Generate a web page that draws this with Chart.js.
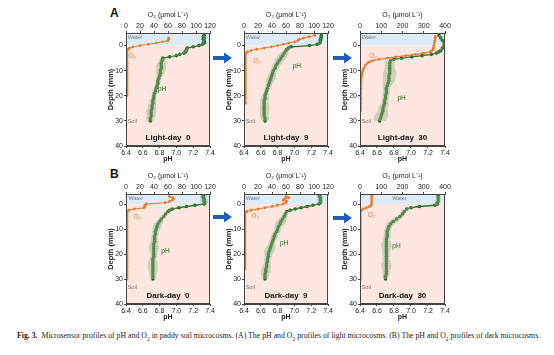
<!DOCTYPE html>
<html><head><meta charset="utf-8">
<script src="https://cdn.jsdelivr.net/npm/chart.js@4/dist/chart.umd.min.js"></script>
<style>
html,body{margin:0;padding:0;background:#fff}
body{width:554px;height:355px;position:relative;overflow:hidden;font-family:"Liberation Sans",Arial,sans-serif}
canvas{position:absolute}
.lt{position:absolute;font-weight:bold;font-size:12px;color:#111}
#cap{position:absolute;left:17px;top:331px;font-family:"Liberation Serif","Times New Roman",serif;font-size:7.8px;color:#222;white-space:nowrap}
svg{position:absolute;left:0;top:0}
</style></head><body>
<div class="lt" style="left:110px;top:6px">A</div>
<div class="lt" style="left:110px;top:167px">B</div>
<svg width="554" height="355">
 <g fill="#1f5fba">
  <polygon points="213,56 224,56 224,52.5 232,58 224,63.5 224,60 213,60"/>
  <polygon points="333,56 344,56 344,52.5 352,58 344,63.5 344,60 333,60"/>
  <polygon points="213,215 224,215 224,211.5 232,217 224,222.5 224,219 213,219"/>
  <polygon points="333,216 344,216 344,212.5 352,218 344,223.5 344,220 333,220"/>
 </g>
</svg>
<div id="cap"><b>Fig. 3.</b>&nbsp; Microsensor profiles of pH and O<sub style="font-size:5.5px">2</sub> in paddy soil microcosms. (A) The pH and O<sub style="font-size:5.5px">2</sub> profiles of light microcosms. (B) The pH and O<sub style="font-size:5.5px">2</sub> profiles of dark microcosms.</div>
<script>
// ---------- tick labels ----------
const phTicks = [6.4, 6.6, 6.8, 7.0, 7.2, 7.4];
const depthTicks = [0, 10, 20, 30, 40];
const o2TicksSmall = [0, 20, 40, 60, 80, 100, 120];
const o2TicksLarge = [0, 100, 200, 300, 400];
const panelTitles = ["Light-day  0", "Light-day  9", "Light-day  30", "Dark-day  0", "Dark-day  9", "Dark-day  30"];

// ---------- Light-day 0 ----------
const light0PhDepth = [-4,-3.5,-3,-2.5,-2,-1.5,-1,-0.5,0,0.5,1,1.5,2,2.5,3,3.5,4,4.5,5,6,7,8,9,10,11,12,13,14,15,16,17,18,19,20,21,22,23,24,25,26,27,28,29,30];
const light0Ph = [7.33,7.32,7.33,7.32,7.33,7.33,7.33,7.31,7.27,7.20,7.13,7.12,7.12,7.11,7.09,7.04,7.00,6.92,6.84,6.83,6.82,6.82,6.82,6.81,6.81,6.80,6.79,6.78,6.78,6.77,6.76,6.75,6.74,6.73,6.73,6.72,6.72,6.71,6.71,6.70,6.70,6.70,6.69,6.69];
const light0PhSd = [0.01,0.01,0.01,0.01,0.01,0.01,0.01,0.02,0.02,0.02,0.02,0.02,0.02,0.02,0.03,0.03,0.03,0.03,0.03,0.04,0.05,0.06,0.06,0.06,0.05,0.04,0.03,0.03,0.03,0.03,0.03,0.03,0.03,0.03,0.03,0.04,0.04,0.05,0.05,0.06,0.06,0.05,0.05,0.04];
const light0O2Depth = [-3,-2.5,-2,-1.5,-1,-0.5,0,0.5,1,1.5,2,3,4,5,6,7,8,9,10,11,12,13,14,15,16,17,18,19,20];
const light0O2 = [61,61,60,52,43,32,20,10,5,3,2,1.5,1.5,1.5,1.5,1.5,1.5,1.5,1.5,1.5,1.5,1.5,1.5,1.5,1.5,1.5,1.5,1.5,1.5];

// ---------- Light-day 9 ----------
const light9PhDepth = [-4,-3.5,-3,-2.5,-2,-1.5,-1,-0.5,0,0.5,1,1.5,2,3,4,5,6,7,8,9,10,11,12,13,14,15,16,17,18,19,20,21,22,23,24,25,26,27,28,29,30];
const light9Ph = [7.32,7.32,7.32,7.31,7.31,7.31,7.30,7.27,7.18,6.96,6.93,6.91,6.90,6.88,6.86,6.84,6.82,6.80,6.78,6.77,6.75,6.74,6.73,6.72,6.71,6.70,6.69,6.68,6.67,6.66,6.65,6.65,6.64,6.64,6.64,6.64,6.64,6.64,6.64,6.65,6.65];
const light9PhSd = [0.01,0.01,0.01,0.01,0.01,0.02,0.02,0.02,0.02,0.02,0.02,0.03,0.03,0.05,0.06,0.06,0.06,0.05,0.05,0.04,0.04,0.04,0.05,0.05,0.05,0.04,0.04,0.03,0.03,0.03,0.04,0.05,0.05,0.05,0.06,0.06,0.06,0.05,0.05,0.05,0.04];
const light9O2Depth = [-4,-3.5,-3,-2.5,-2,-1.5,-1,-0.5,0,0.5,1,1.5,2,2.5,3,4,5,6,7,8,9,10,11,12,13,14,15,16,17,18,19,20,21,22,23];
const light9O2 = [101,93,85,79,77,73,64,56,48,39,29,18,10,5,3,2,2,2,2,2,2,2,2,2,2,2,2,2,2,2,2,2,2,2,2];

// ---------- Light-day 30 ----------
const light30PhDepth = [-4,-3,-2,-1,0,1,2,2.5,3,3.5,4,4.5,5,5.5,6,7,8,9,10,11,12,13,14,15,16,17,18,19,20,21,22,23,24,25,26,27,28,29,30];
const light30Ph = [7.33,7.35,7.37,7.39,7.39,7.37,7.35,7.33,7.30,7.24,7.13,7.01,6.89,6.80,6.76,6.75,6.75,6.75,6.75,6.75,6.74,6.74,6.74,6.73,6.72,6.71,6.71,6.71,6.70,6.70,6.69,6.69,6.68,6.67,6.67,6.66,6.65,6.64,6.63];
const light30PhSd = [0.01,0.01,0.01,0.01,0.01,0.01,0.01,0.01,0.02,0.02,0.02,0.02,0.03,0.04,0.05,0.06,0.06,0.06,0.07,0.08,0.08,0.08,0.07,0.06,0.05,0.04,0.04,0.04,0.04,0.04,0.04,0.04,0.05,0.05,0.06,0.07,0.08,0.08,0.07];
const light30O2Depth = [-3.5,-3,-2,-1,0,1,1.5,2,2.5,3,3.5,4,4.5,5,5.5,6,6.5,7,8,9,10,11,12,13,14,15,16,17,18,19,20,21,22,23,24,25,26];
const light30O2 = [355,354,352,350,348,346,344,340,330,300,260,215,170,130,90,60,45,35,24,18,14,10,8,6,5,4,4,4,3,3,3,3,3,3,3,3,3];

// ---------- Dark-day 0 ----------
const dark0PhDepth = [-3.5,-3,-2.5,-2,-1.5,-1,-0.5,0,0.5,1,1.5,2,2.5,3,4,5,6,7,8,9,10,11,12,13,14,15,16,17,18,19,20,21,22,23,24,25,26,27,28,29,30];
const dark0Ph = [7.32,7.32,7.32,7.33,7.33,7.33,7.34,7.33,7.22,7.12,7.03,6.95,6.92,6.90,6.87,6.85,6.82,6.80,6.78,6.77,6.76,6.75,6.75,6.74,6.74,6.74,6.73,6.73,6.73,6.73,6.73,6.73,6.72,6.72,6.72,6.72,6.72,6.72,6.72,6.72,6.72];
const dark0PhSd = [0.04,0.04,0.04,0.04,0.04,0.04,0.04,0.03,0.02,0.02,0.02,0.02,0.02,0.02,0.03,0.03,0.03,0.04,0.05,0.05,0.05,0.04,0.04,0.04,0.04,0.05,0.05,0.06,0.06,0.05,0.04,0.04,0.04,0.05,0.06,0.06,0.06,0.05,0.04,0.04,0.04];
const dark0O2Depth = [-3,-2.5,-2,-1.5,-1,-0.5,0,0.5,1,1.5,2,2.5,3,4,5,6,7,8,9,10,11,12,13,14,15,16,17,18,19,20,21,22,23,24,25,26,27,28,29,30];
const dark0O2 = [62,67,68,66,62,56,29,27,27,26,12,4,2,1.5,1.5,1.5,1.5,1.5,1.5,1.5,1.5,1.5,1.5,1.5,1.5,1.5,1.5,1.5,1.5,1.5,1.5,1.5,1.5,1.5,1.5,1.5,1.5,1.5,1.5,1.5];

// ---------- Dark-day 9 ----------
const dark9PhDepth = [-3.5,-3,-2.5,-2,-1.5,-1,-0.5,0,0.5,1,1.5,2,2.5,3,4,5,6,7,8,9,10,11,12,13,14,15,16,17,18,19,20,21,22,23,24,25,26,27,28,29,30];
const dark9Ph = [7.30,7.30,7.31,7.31,7.31,7.31,7.31,7.29,7.22,7.15,7.08,7.01,6.95,6.91,6.89,6.88,6.86,6.84,6.83,6.81,6.80,6.79,6.77,6.76,6.75,6.74,6.73,6.72,6.71,6.70,6.69,6.69,6.68,6.68,6.67,6.67,6.66,6.66,6.65,6.65,6.65];
const dark9PhSd = [0.03,0.03,0.03,0.03,0.03,0.03,0.03,0.03,0.02,0.02,0.02,0.02,0.02,0.02,0.03,0.04,0.05,0.06,0.06,0.05,0.04,0.04,0.04,0.04,0.04,0.04,0.04,0.05,0.06,0.06,0.05,0.04,0.04,0.04,0.04,0.05,0.06,0.06,0.05,0.04,0.04];
const dark9O2Depth = [-3,-2.5,-2,-1.5,-1,-0.5,0,0.5,1,1.5,2,2.5,3,3.5,4,5,6,7,8,9,10,11,12,13,14,15,16,17,18,19,20,21,22,23,24,25,26];
const dark9O2 = [60,64,58,56,61,60,56,48,40,30,20,10,4,2,1.5,1.5,1.5,1.5,1.5,1.5,1.5,1.5,1.5,1.5,1.5,1.5,1.5,1.5,1.5,1.5,1.5,1.5,1.5,1.5,1.5,1.5,1.5];

// ---------- Dark-day 30 ----------
const dark30PhDepth = [-3.5,-3,-2,-1,-0.5,0,0.5,1,1.5,2,3,4,5,6,7,8,9,10,11,12,13,14,15,16,17,18,19,20,21,22,23,24,25,26,27,28,29,30];
const dark30Ph = [7.32,7.32,7.32,7.32,7.31,7.31,7.28,7.10,7.00,6.95,6.92,6.90,6.87,6.83,6.79,6.76,6.74,6.73,6.72,6.72,6.72,6.71,6.71,6.71,6.71,6.71,6.71,6.71,6.71,6.71,6.71,6.71,6.71,6.71,6.71,6.71,6.70,6.70];
const dark30PhSd = [0.03,0.03,0.03,0.03,0.03,0.03,0.03,0.03,0.03,0.03,0.03,0.03,0.04,0.05,0.06,0.05,0.04,0.04,0.04,0.04,0.04,0.04,0.05,0.06,0.06,0.05,0.04,0.04,0.04,0.04,0.05,0.06,0.06,0.05,0.04,0.04,0.03,0.03];
const dark30O2Depth = [-3.5,-3,-2,-1,0,0.5,1,1.5,2,2.5,3,4,5,6,7,8,9,10,11,12,13,14,15,16,17,18,19,20,21,22,23,24,25,26,27,28,29,30];
const dark30O2 = [55,55,55,55,54,52,45,30,15,6,3,2,2,2,2,2,2,2,2,2,2,2,2,2,2,2,2,2,2,2,2,2,2,2,2,2,2,2];

// ---------- styling ----------
const ORANGE = '#ec7a2a', GREEN = '#1b6a22', BAND = 'rgba(150,178,140,0.45)';
const WATER = '#dcecf8', SOIL = '#fde7e0';
const FONT = '"Liberation Sans", Arial, sans-serif';

const panels = [
  {ph:[light0PhDepth,light0Ph,light0PhSd], o2:[light0O2Depth,light0O2], o2max:120, o2ticks:o2TicksSmall, left:126, top:33, w:84, h:113, ymin:-5, title:panelTitles[0],
   labels:{water:[6.42,-3.3], o2:[6.43,4.2], ph:[6.78,17.3], soil:[6.42,30.3], title:[6.9,36.6]}},
  {ph:[light9PhDepth,light9Ph,light9PhSd], o2:[light9O2Depth,light9O2], o2max:120, o2ticks:o2TicksSmall, left:244, top:33, w:84, h:113, ymin:-5, title:panelTitles[1],
   labels:{water:[6.42,-3.3], o2:[6.51,6.2], ph:[6.98,8.4], soil:[6.42,30.3], title:[6.9,36.6]}},
  {ph:[light30PhDepth,light30Ph,light30PhSd], o2:[light30O2Depth,light30O2], o2max:400, o2ticks:o2TicksLarge, left:360, top:33, w:85, h:113, ymin:-5, title:panelTitles[2],
   labels:{water:[6.42,-3.3], o2:[6.51,4.3], ph:[6.84,21], soil:[6.42,30.3], title:[6.9,36.6]}},
  {ph:[dark0PhDepth,dark0Ph,dark0PhSd], o2:[dark0O2Depth,dark0O2], o2max:120, o2ticks:o2TicksSmall, left:126, top:194, w:84, h:110, ymin:-4, title:panelTitles[3],
   labels:{water:[6.43,-2.4], o2:[6.49,5.2], ph:[6.82,18.7], soil:[6.42,33.3], title:[6.9,36.6]}},
  {ph:[dark9PhDepth,dark9Ph,dark9PhSd], o2:[dark9O2Depth,dark9O2], o2max:120, o2ticks:o2TicksSmall, left:244, top:194, w:84, h:110, ymin:-4, title:panelTitles[4],
   labels:{water:[6.42,-2.4], o2:[6.49,5.0], ph:[6.83,15.6], soil:[6.42,33.3], title:[6.9,36.6]}},
  {ph:[dark30PhDepth,dark30Ph,dark30PhSd], o2:[dark30O2Depth,dark30O2], o2max:400, o2ticks:o2TicksLarge, left:360, top:194, w:85, h:110, ymin:-4, title:panelTitles[5],
   labels:{water:[6.78,-2.4], o2:[6.49,4.5], ph:[6.78,17], soil:[6.42,33.3], title:[6.9,36.6]}}
];

const bgPlugin = {
  id:'bgzones',
  beforeDatasetsDraw(chart){
    const {ctx, chartArea:a, scales:{y}} = chart;
    const y0 = y.getPixelForValue(0);
    ctx.save();
    ctx.fillStyle = WATER; ctx.fillRect(a.left, a.top, a.right-a.left, y0-a.top);
    ctx.fillStyle = SOIL; ctx.fillRect(a.left, y0, a.right-a.left, a.bottom-y0);
    ctx.restore();
  },
  afterDatasetsDraw(chart){
    const {ctx, chartArea:a, scales:{x, y}} = chart;
    const L = chart.options.plugins.bgzones.labels;
    const title = chart.options.plugins.bgzones.title;
    ctx.save();
    ctx.textBaseline = 'middle';
    const put = (txt, pos, color, font, align) => {
      ctx.fillStyle = color; ctx.font = font; ctx.textAlign = align;
      ctx.fillText(txt, x.getPixelForValue(pos[0]), y.getPixelForValue(pos[1]));
    };
    put('Water', L.water, '#7a7a7a', '5.5px ' + FONT, 'left');
    put('Soil', L.soil, '#7a7a7a', '5.5px ' + FONT, 'left');
    put('O₂', L.o2, ORANGE, '6.5px ' + FONT, 'left');
    put('pH', L.ph, GREEN, '6.5px ' + FONT, 'left');
    put(title, L.title, '#111', 'bold 8px ' + FONT, 'center');
    ctx.strokeStyle = '#444'; ctx.lineWidth = 1;
    ctx.strokeRect(a.left+0.5, a.top+0.5, a.right-a.left-1, a.bottom-a.top-1);
    ctx.restore();
  }
};

function axisCommon(){
  return {
    grid:{drawOnChartArea:false, tickLength:2, color:'#444', lineWidth:1},
    border:{color:'#444'},
    ticks:{font:{size:7, family:FONT}, color:'#222', padding:1, autoSkip:false, maxRotation:0}
  };
}

function makePanel(p){
  const Lw = 23, Tw = 26, Rw = 9, Bw = 18;
  const cv = document.createElement('canvas');
  const W = Lw + p.w + Rw, H = Tw + p.h + Bw;
  cv.width = W; cv.height = H;
  cv.style.width = W + 'px'; cv.style.height = H + 'px';
  cv.style.left = (p.left - Lw) + 'px'; cv.style.top = (p.top - Tw) + 'px';
  document.body.appendChild(cv);

  const [pd, pv, ps] = p.ph;
  const [od, ov] = p.o2;
  const lo = pd.map((d,i)=>({x:pv[i]-ps[i], y:d}));
  const hi = pd.map((d,i)=>({x:pv[i]+ps[i], y:d})).reverse();

  const xs = axisCommon(), x2 = axisCommon(), ys = axisCommon();
  new Chart(cv, {
    type:'scatter',
    data:{datasets:[
      {data:lo.concat(hi), xAxisID:'x', yAxisID:'y', showLine:true, fill:'shape', backgroundColor:BAND, borderWidth:0, pointRadius:0, tension:0},
      {data:od.map((d,i)=>({x:ov[i], y:d})), xAxisID:'x2', yAxisID:'y', showLine:true, borderColor:ORANGE, borderWidth:1.1, pointRadius:1.4, pointBackgroundColor:ORANGE, pointBorderWidth:0},
      {data:pd.map((d,i)=>({x:pv[i], y:d})), xAxisID:'x', yAxisID:'y', showLine:true, borderColor:GREEN, borderWidth:1.3, pointRadius:1.8, pointBackgroundColor:GREEN, pointBorderWidth:0}
    ]},
    options:{
      responsive:false, animation:false, devicePixelRatio:1,
      layout:{padding:{left:0, top:0, right:Rw, bottom:0}},
      plugins:{legend:{display:false}, tooltip:{enabled:false}, bgzones:{labels:p.labels, title:p.title}},
      scales:{
        x:Object.assign(xs, {type:'linear', position:'bottom', min:6.4, max:7.4,
          afterBuildTicks:s=>{s.ticks = phTicks.map(v=>({value:v}));},
          ticks:Object.assign(xs.ticks, {callback:v=>Number(v).toFixed(1)}),
          title:{display:true, text:'pH', font:{size:7, weight:'bold', family:FONT}, color:'#222', padding:{top:0, bottom:1}},
          afterFit:s=>{s.height = Bw;}}),
        x2:Object.assign(x2, {type:'linear', position:'top', min:0, max:p.o2max,
          afterBuildTicks:s=>{s.ticks = p.o2ticks.map(v=>({value:v}));},
          ticks:Object.assign(x2.ticks, {callback:v=>String(v)}),
          title:{display:true, text:'O₂ (μmol L⁻¹)', font:{size:7, family:FONT}, color:'#222', padding:{top:4, bottom:0}},
          afterFit:s=>{s.height = Tw;}}),
        y:Object.assign(ys, {type:'linear', position:'left', reverse:true, min:p.ymin, max:40,
          afterBuildTicks:s=>{s.ticks = depthTicks.map(v=>({value:v}));},
          ticks:Object.assign(ys.ticks, {callback:v=>String(v)}),
          title:{display:true, text:'Depth (mm)', font:{size:7.5, weight:'bold', family:FONT}, color:'#222', padding:{top:3, bottom:0}},
          afterFit:s=>{s.width = Lw;}})
      }
    },
    plugins:[bgPlugin]
  });
}
panels.forEach(makePanel);
</script>
</body></html>
